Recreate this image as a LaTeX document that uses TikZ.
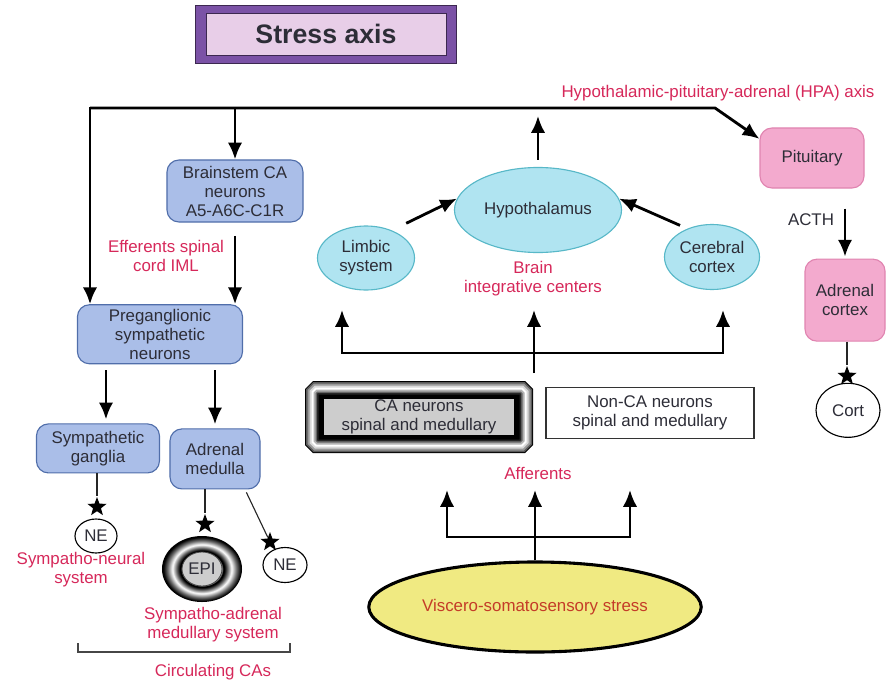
\documentclass[tikz,border=0pt]{standalone}
\usepackage{fontspec}
\setmainfont{Liberation Sans}
\usetikzlibrary{positioning}
\usetikzlibrary{shapes}
\usetikzlibrary{arrows.meta}

\definecolor{testoScuro}{RGB}{45,45,55}
\definecolor{rossoTesto}{RGB}{214,40,90}
\definecolor{bluFondo}{RGB}{170,190,232}
\definecolor{bluBordo}{RGB}{80,110,170}
\definecolor{azzurroFondo}{RGB}{176,228,241}
\definecolor{azzurroBordo}{RGB}{88,184,200}
\definecolor{rosaFondo}{RGB}{243,170,206}
\definecolor{rosaBordo}{RGB}{224,132,176}
\definecolor{gialloFondo}{RGB}{240,234,130}
\definecolor{violaBordo}{RGB}{123,82,166}
\definecolor{violaFondo}{RGB}{232,206,232}
\definecolor{violaScuro}{RGB}{60,40,80}
\definecolor{grigioChiaro}{RGB}{205,205,205}
\definecolor{grigioMedio}{RGB}{110,110,110}
\definecolor{grigioScuro}{RGB}{70,70,70}
\definecolor{rossoStress}{RGB}{196,60,40}

\pgfdeclareradialshading{anello}{\pgfpoint{0bp}{0bp}}{color(0bp)=(grigioChiaro); color(11.5bp)=(grigioChiaro); color(12.2bp)=(white); color(12.9bp)=(black); color(14bp)=(black); color(16bp)=(grigioMedio); color(18.5bp)=(white); color(21.5bp)=(grigioMedio); color(24.2bp)=(black); color(25bp)=(black); color(50bp)=(black)}

\begin{document}
\begin{tikzpicture}[x=0.025cm,y=-0.025cm,
font=\fontsize{12}{13.5}\selectfont, text=testoScuro,
blu/.style={draw=bluBordo,fill=bluFondo,line width=0.8pt,rounded corners=0.3cm,align=center,inner sep=2pt},
azzurro/.style={ellipse,draw=azzurroBordo,fill=azzurroFondo,line width=0.8pt,align=center,inner sep=0pt},
rosa/.style={draw=rosaBordo,fill=rosaFondo,line width=0.8pt,rounded corners=0.3cm,align=center},
rosso/.style={text=rossoTesto,align=center},
cerchio/.style={ellipse,draw=black,fill=white,line width=0.8pt,inner sep=0pt},
stella/.style={star,star points=5,star point ratio=2.4,fill=black,inner sep=0pt,minimum size=0.5cm},
freccia/.style={line width=2pt,-{Latex[length=0.42cm,width=0.36cm]}},
filo/.style={line width=0.8pt,draw=black!85},
linea/.style={line width=2pt}
]
\useasboundingbox (0,0) rectangle (892,684);
%--
\node[draw=violaScuro,fill=violaBordo,line width=0.6pt,minimum width=6.525cm,minimum height=1.45cm](titoloBordo) at (326,34){};
\node[draw=violaScuro,fill=violaFondo,line width=0.6pt,minimum width=6cm,minimum height=1.05cm,font=\fontsize{19}{22}\selectfont\bfseries](titolo) at (titoloBordo){Stress axis};
%----
\node[blu,minimum width=3.4cm,minimum height=1.55cm](tronco) at (235,191){Brainstem CA\\neurons\\A5-A6C-C1R};
\node[blu,minimum width=4.125cm,minimum height=1.475cm,below=2.04cm of tronco,xshift=-1.875cm](pregang){Preganglionic\\sympathetic\\neurons};
\node[blu,minimum width=3.075cm,minimum height=1.225cm,below=1.475cm of pregang,xshift=-1.55cm](gangli){Sympathetic\\ganglia};
\node[blu,minimum width=2.25cm,minimum height=1.5cm,below=1.6cm of pregang,xshift=1.375cm](midollare){Adrenal\\medulla};
\node[rosso](efferenti) at (166,256){Efferents spinal\\cord IML};
%--
\coordinate (sx) at (90,108);
\coordinate (snodo) at (715,108);
\node[rosa,minimum width=2.6cm,minimum height=1.5cm](ipofisi) at (812,158){Pituitary};
\draw [freccia] (snodo) -- (sx) -- (sx |- pregang.north);
\draw [freccia] (sx) -- (snodo) -- (ipofisi.160);
\draw [freccia] (tronco.north |- sx) -- (tronco.north);
\draw [freccia,shorten <=0.33cm] (tronco.south) -- (tronco.south |- pregang.north);
\draw [freccia,shorten <=0.15cm,shorten >=0.1cm] ([xshift=0.2cm]gangli.north |- pregang.south) -- ([xshift=0.2cm]gangli.north);
\draw [freccia,shorten <=0.15cm,shorten >=0.1cm] (midollare.north |- pregang.south) -- (midollare.north);
%--
\node[cerchio,minimum width=1.05cm,minimum height=0.85cm](ne) at (96,536){NE};
\node[stella](stellaNe) at (97,507){};
\draw [filo] (stellaNe |- gangli.south) -- (stellaNe);
\node[rosso](neurale) at (81,570){Sympatho-neural\\system};
%--
\node[ellipse,shade,shading=anello,minimum width=2cm,minimum height=1.65cm,inner sep=0pt](anelloEpi) at (202,569){};
\node[ellipse,fill=grigioChiaro,draw=grigioScuro,line width=0.6pt,minimum width=1cm,minimum height=0.85cm,inner sep=0pt](epi) at (anelloEpi){EPI};
\node[stella](stellaEpi) at (205,524){};
\draw [filo] (stellaEpi |- midollare.south) -- (stellaEpi);
\node[cerchio,minimum width=1.1cm,minimum height=0.875cm](ne2) at (285,565){NE};
\node[stella](stellaNe2) at (270,542){};
\draw [filo,shorten <=0.08cm] ([xshift=0.75cm]midollare.south) -- (stellaNe2);
\node[rosso](adrenale) at (213,625){Sympatho-adrenal\\medullary system};
\draw [line width=1.2pt,draw=grigioScuro] (78,643) -- (78,652) -- (290,652) -- (290,643);
\node[rosso](circolanti) at (213,672){Circulating CAs};
%----
\node[azzurro,minimum width=4.175cm,minimum height=2.125cm](ipotalamo) at (538,210){Hypothalamus};
\node[azzurro,minimum width=2.425cm,minimum height=1.6cm](limbico) at (366,258){Limbic\\system};
\node[azzurro,minimum width=2.375cm,minimum height=1.625cm](corteccia) at (712,257){Cerebral\\cortex};
\draw [freccia,shorten <=0.4cm] (limbico.47) -- (ipotalamo.172);
\draw [freccia,shorten <=0.2cm] (corteccia.131) -- (ipotalamo.8);
\coordinate (cima) at (538,116);
\draw [freccia,shorten <=0.18cm] (ipotalamo.north) -- (cima);
\node[rosso](cervello) at (533,279){Brain\\integrative centers};
\node[rosso](hpa) at (718,93){Hypothalamic-pituitary-adrenal (HPA) axis};
%--
\coordinate (baseSup) at (534,373);
\coordinate (bivioSup) at (534,353);
\coordinate (puntaL) at (342,310);
\coordinate (puntaC) at (534,310);
\coordinate (puntaR) at (723,310);
\draw [freccia] (bivioSup) -| (puntaL);
\draw [freccia] (bivioSup) -| (puntaR);
\draw [freccia] (baseSup) -- (puntaC);
%----
\foreach \d/\c in {0/black,1/black!65,2.5/black!40,4.5/black!15,6.5/white,8.5/black!30,10.5/black!60,12/black!85,13.5/black}{
  \pgfmathsetmacro\smusso{8-0.586*\d}
  \fill[\c] ({305+\d+\smusso},{381+\d}) -- ({533-\d-\smusso},{381+\d}) -- ({533-\d},{381+\d+\smusso}) -- ({533-\d},{453-\d-\smusso}) -- ({533-\d-\smusso},{453-\d}) -- ({305+\d+\smusso},{453-\d}) -- ({305+\d},{453-\d-\smusso}) -- ({305+\d},{381+\d+\smusso}) -- cycle;
}
\node[draw=black,fill=grigioChiaro,line width=0.8pt,minimum width=4.8cm,minimum height=0.95cm,align=center,inner sep=0pt](ca) at (419,417){CA neurons\\spinal and medullary};
\node[draw=black!80,fill=white,line width=0.8pt,minimum width=5.2cm,minimum height=1.275cm,align=center](nonca) at (650,413){Non-CA neurons\\spinal and medullary};
\node[rosso](afferenti) at (538,473){Afferents};
%--
\node[ellipse,draw=black,fill=gialloFondo,line width=2.2pt,minimum width=7.5cm,minimum height=2.25cm,text=rossoStress](visceri) at (535,607){Viscero-somatosensory stress};
\coordinate (bivioInf) at (535,537);
\coordinate (freccL) at (447,490);
\coordinate (freccC) at (535,490);
\coordinate (freccR) at (630,490);
\draw [linea] (visceri.north) -- (bivioInf);
\draw [freccia] (bivioInf) -| (freccL);
\draw [freccia] (bivioInf) -| (freccR);
\draw [freccia] (visceri.north) -- (freccC);
%----
\node[rosa,minimum width=2cm,minimum height=2.05cm,below=1.75cm of ipofisi,xshift=0.825cm](surrene){Adrenal\\cortex};
\draw [freccia,shorten <=0.5cm,shorten >=0.05cm] (surrene.north |- ipofisi.south) -- (surrene.north);
\node(acth) at (811,220){ACTH};
\node[cerchio,minimum width=1.6cm,minimum height=1.35cm,below=1.025cm of surrene,xshift=0.075cm](cort){Cort};
\node[stella](stellaCort) at (847,376){};
\draw [filo] (stellaCort |- surrene.south) -- (stellaCort);
\end{tikzpicture}
\end{document}
